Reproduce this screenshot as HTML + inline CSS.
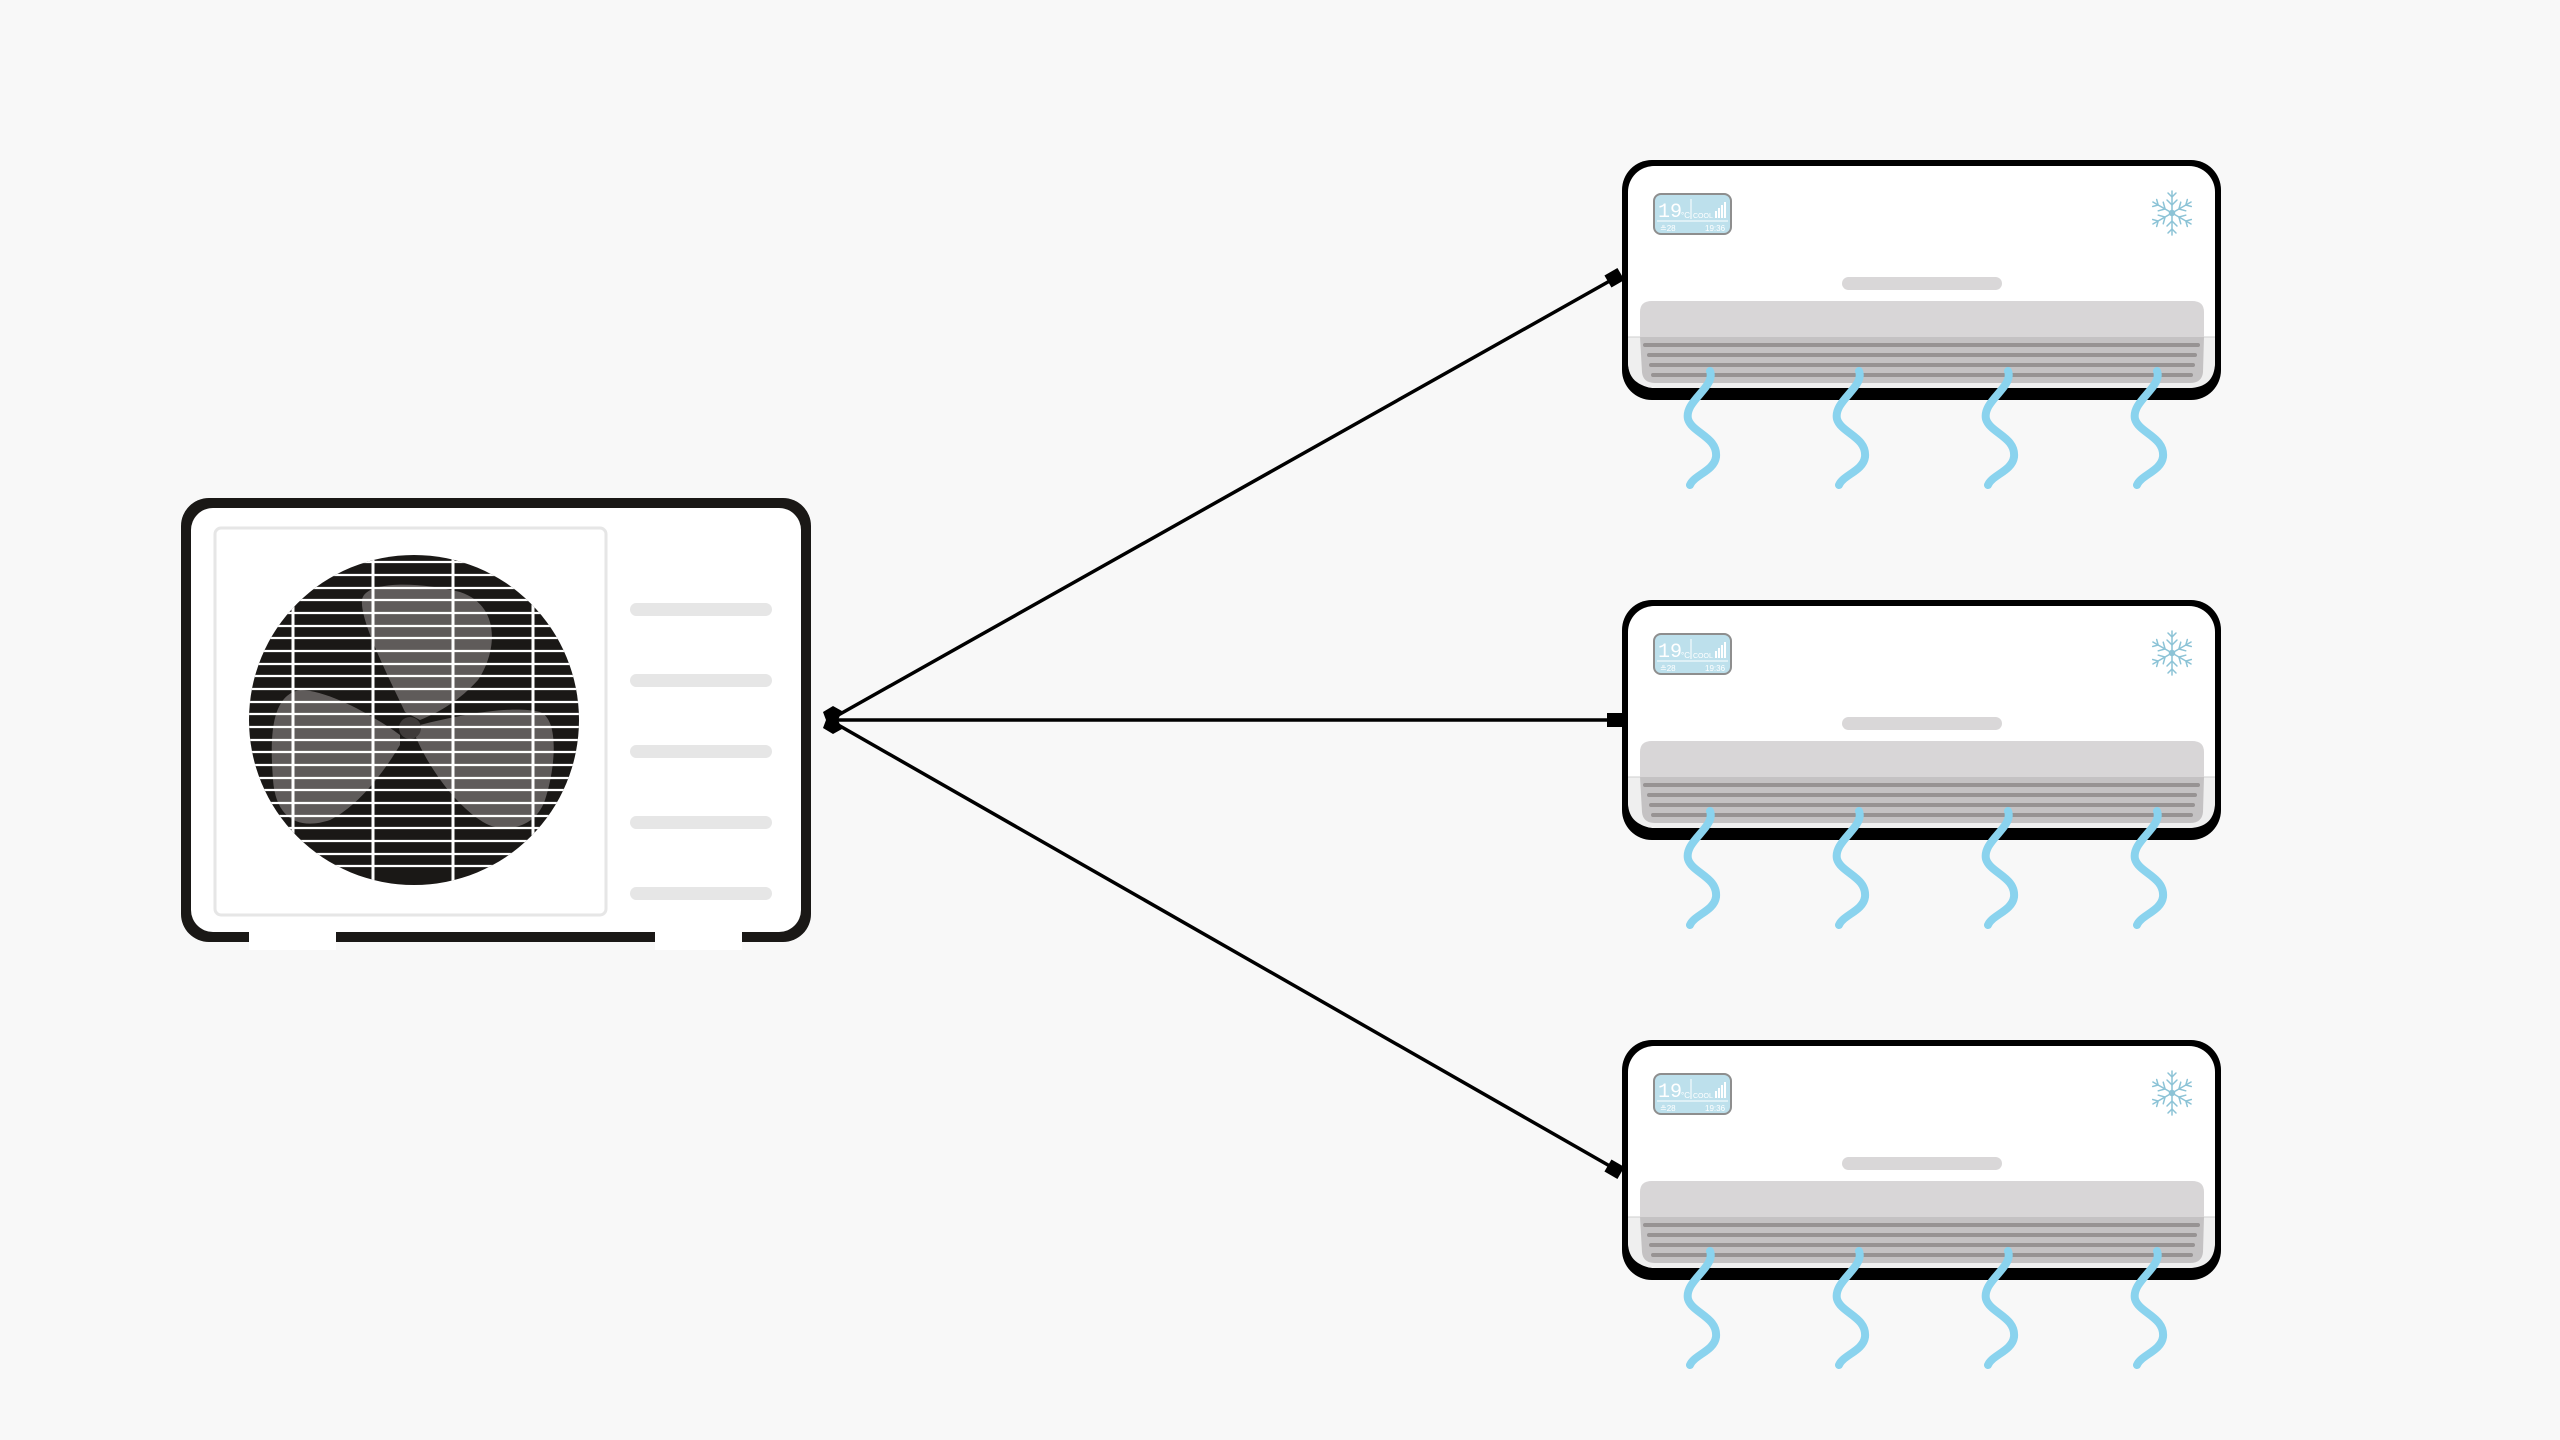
<!DOCTYPE html>
<html><head><meta charset="utf-8"><style>
html,body{margin:0;padding:0;background:#f8f8f8;}
svg{display:block}
</style></head><body>
<svg width="2560" height="1440" viewBox="0 0 2560 1440" xmlns="http://www.w3.org/2000/svg" font-family="Liberation Sans, sans-serif">
<defs>
  <clipPath id="fanclip"><circle cx="414" cy="720" r="165"/></clipPath>
  <g id="wave"><path d="M8 0 C14 16,-18 30,-14 48 C-10 62,16 66,14 86 C12 100,-8 104,-12 114" fill="none" stroke="#8ad3ee" stroke-width="8" stroke-linecap="round"/></g>
  <g id="flake" stroke="#8cc3d6" stroke-width="1.5" fill="none" stroke-linecap="round">
    <g id="arm"><line x1="0" y1="0" x2="0" y2="-22"/><polyline points="-4,-20 0,-16 4,-20"/><polyline points="-5,-13 0,-8 5,-13"/></g>
    <use href="#arm" transform="rotate(60)"/><use href="#arm" transform="rotate(120)"/><use href="#arm" transform="rotate(180)"/><use href="#arm" transform="rotate(240)"/><use href="#arm" transform="rotate(300)"/>
    <circle r="2.5" fill="#8cc3d6"/>
  </g>
  <g id="indoor">
    <rect x="1622" y="160" width="599" height="240" rx="30" fill="#000"/>
    <rect x="1628" y="166" width="587" height="222" rx="26" fill="#fff"/>
    <path d="M1628 337 H2215 V362 Q2215 388 2188 388 H1660 Q1628 388 1628 362 Z" fill="#efefef"/>
    <line x1="1628" y1="337" x2="2215" y2="337" stroke="#cfcfcf" stroke-width="1"/>
    <rect x="1654" y="194" width="77" height="40" rx="7" fill="#bde0ec" stroke="#8e8e8e" stroke-width="2"/>
    <text x="1658" y="217" font-size="20" fill="#fff" font-family="Liberation Mono, monospace">19</text>
    <text x="1681" y="218" font-size="8" fill="#fff">°C</text>
    <line x1="1691" y1="199" x2="1691" y2="219" stroke="#fff" stroke-width="1"/>
    <text x="1693" y="218" font-size="7" fill="#fff">COOL</text>
    <rect x="1715" y="211" width="2" height="7" fill="#fff"/><rect x="1718" y="208" width="2" height="10" fill="#fff"/><rect x="1721" y="205" width="2" height="13" fill="#fff"/><rect x="1724" y="202" width="2" height="16" fill="#fff"/>
    <line x1="1657" y1="221" x2="1728" y2="221" stroke="#fff" stroke-width="1"/>
    <text x="1660" y="231" font-size="8" fill="#fff">≗28</text>
    <text x="1705" y="231" font-size="8" fill="#fff">19:36</text>
    <use href="#flake" transform="translate(2172,213)"/>
    <rect x="1842" y="277" width="160" height="13" rx="6.5" fill="#d9d7d8"/>
    <path d="M1640 312 Q1640 301 1652 301 H2192 Q2204 301 2204 312 V337 H1640 Z" fill="#d8d6d7"/>
    <path d="M1640 337 H2204 L2203 372 Q2202 383 2190 383 H1655 Q1643 383 1642 372 Z" fill="#c4c2c3"/>
    <g stroke="#979393" stroke-width="4" stroke-linecap="round">
      <line x1="1645" y1="345" x2="2198" y2="345"/>
      <line x1="1649" y1="355" x2="2195" y2="355"/>
      <line x1="1651" y1="365" x2="2193" y2="365"/>
      <line x1="1653" y1="375" x2="2191" y2="375"/>
    </g>
    <use href="#wave" transform="translate(1702,371)"/>
    <use href="#wave" transform="translate(1851,371)"/>
    <use href="#wave" transform="translate(2000,371)"/>
    <use href="#wave" transform="translate(2149,371)"/>
  </g>
</defs>
<rect width="2560" height="1440" fill="#f8f8f8"/>

<g stroke="#000" stroke-width="3.5">
  <line x1="833" y1="718" x2="1615" y2="278"/>
  <line x1="833" y1="720" x2="1615" y2="720"/>
  <line x1="833" y1="722" x2="1615" y2="1169"/>
</g>
<rect x="1607" y="713" width="15" height="14" fill="#000"/>
<rect x="1607" y="271" width="15" height="14" fill="#000" transform="rotate(-30 1614 278)"/>
<rect x="1607" y="1162" width="15" height="14" fill="#000" transform="rotate(30 1614 1169)"/>
<path d="M823 712 L833 706 L842 711 L838 720 L842 729 L833 734 L823 728 L826 720 Z" fill="#000"/>

<rect x="181" y="498" width="630" height="444" rx="28" fill="#1a1816"/>
<rect x="191" y="508" width="610" height="424" rx="22" fill="#fff"/>
<rect x="249" y="930" width="87" height="20" fill="#fff"/>
<rect x="655" y="930" width="87" height="20" fill="#fff"/>
<rect x="215" y="528" width="391" height="387" rx="6" fill="#fff" stroke="#e6e6e6" stroke-width="3"/>
<g fill="#e6e6e6">
  <rect x="630" y="603" width="142" height="13" rx="6.5"/>
  <rect x="630" y="674" width="142" height="13" rx="6.5"/>
  <rect x="630" y="745" width="142" height="13" rx="6.5"/>
  <rect x="630" y="816" width="142" height="13" rx="6.5"/>
  <rect x="630" y="887" width="142" height="13" rx="6.5"/>
</g>
<circle cx="414" cy="720" r="165" fill="#1a1816"/>
<g clip-path="url(#fanclip)">
  <g fill="#5f5b5a">
    <path d="M405 712 C385 670,360 620,362 600 C365 580,420 582,460 592 C500 605,498 650,478 680 C460 700,440 712,420 720 Z"/>
    <path d="M400 735 C380 720,330 690,300 690 C270 695,270 740,273 780 C276 820,300 830,330 820 C360 805,385 770,400 745 Z"/>
    <path d="M420 725 C460 715,510 705,540 712 C560 720,555 770,545 800 C535 830,500 835,480 820 C450 800,425 760,415 735 Z"/>
  </g>
  <circle cx="410" cy="728" r="11" fill="#3f3b3a"/>
  <g stroke="#fff" stroke-width="2.2">
    <line x1="240" y1="562" x2="590" y2="562"/><line x1="240" y1="575" x2="590" y2="575"/><line x1="240" y1="588" x2="590" y2="588"/><line x1="240" y1="600" x2="590" y2="600"/><line x1="240" y1="613" x2="590" y2="613"/><line x1="240" y1="626" x2="590" y2="626"/><line x1="240" y1="638" x2="590" y2="638"/><line x1="240" y1="651" x2="590" y2="651"/><line x1="240" y1="664" x2="590" y2="664"/><line x1="240" y1="676" x2="590" y2="676"/><line x1="240" y1="689" x2="590" y2="689"/><line x1="240" y1="702" x2="590" y2="702"/><line x1="240" y1="714" x2="590" y2="714"/><line x1="240" y1="727" x2="590" y2="727"/><line x1="240" y1="740" x2="590" y2="740"/><line x1="240" y1="752" x2="590" y2="752"/><line x1="240" y1="765" x2="590" y2="765"/><line x1="240" y1="778" x2="590" y2="778"/><line x1="240" y1="790" x2="590" y2="790"/><line x1="240" y1="803" x2="590" y2="803"/><line x1="240" y1="816" x2="590" y2="816"/><line x1="240" y1="828" x2="590" y2="828"/><line x1="240" y1="841" x2="590" y2="841"/><line x1="240" y1="854" x2="590" y2="854"/><line x1="240" y1="866" x2="590" y2="866"/>
  </g>
  <g stroke="#fff" stroke-width="3">
    <line x1="293" y1="540" x2="293" y2="900"/><line x1="373" y1="540" x2="373" y2="900"/><line x1="453" y1="540" x2="453" y2="900"/><line x1="533" y1="540" x2="533" y2="900"/>
  </g>
</g>

<use href="#indoor"/>
<use href="#indoor" transform="translate(0,440)"/>
<use href="#indoor" transform="translate(0,880)"/>
</svg>
</body></html>
